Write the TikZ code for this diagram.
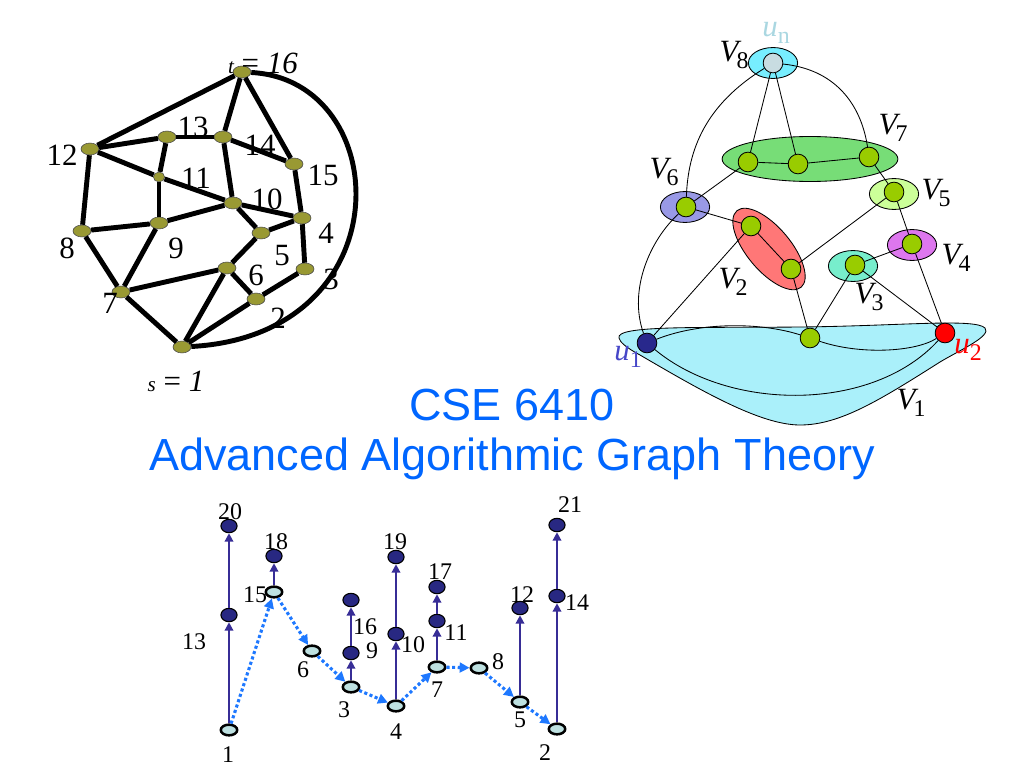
\documentclass[tikz,border=0pt]{standalone}
\usepackage{fontspec}
\setmainfont{Liberation Serif}
\setsansfont{Liberation Sans}
\usepackage{tikz}
\usetikzlibrary{positioning,shapes.geometric,arrows.meta}
\definecolor{olivenode}{RGB}{153,153,51}
\definecolor{limenode}{RGB}{153,204,0}
\definecolor{titleblue}{RGB}{0,102,255}
\definecolor{pathblue}{RGB}{30,120,255}
\definecolor{treeblue}{RGB}{55,45,150}
\definecolor{darknode}{RGB}{40,40,130}
\definecolor{palenode}{RGB}{190,225,225}
\definecolor{uone}{RGB}{40,40,140}
\definecolor{uonetext}{RGB}{70,70,200}
\definecolor{unlabel}{RGB}{170,215,225}
\definecolor{unfill}{RGB}{200,220,225}
\definecolor{setone}{RGB}{170,240,250}
\definecolor{settwo}{RGB}{255,119,119}
\definecolor{setthree}{RGB}{119,238,204}
\definecolor{setfour}{RGB}{221,119,238}
\definecolor{setfive}{RGB}{204,255,153}
\definecolor{setsix}{RGB}{153,153,230}
\definecolor{setseven}{RGB}{119,221,119}
\definecolor{seteight}{RGB}{119,238,255}
\def\px{0.025cm}
\newcommand{\vsub}[2]{\textit{#1}\raisebox{-.45ex}{\fontsize{17}{17}\selectfont #2}}

\begin{document}
\begin{tikzpicture}[x=\px, y=-\px, line join=round]
        \tikzstyle{dot}=[ellipse,draw=black!70,fill=olivenode,minimum width=12.8pt,minimum height=8.5pt,inner sep=0pt];
        \tikzstyle{road}=[line width=3.5pt,black];
        \tikzstyle{num}=[font=\fontsize{22}{24}\selectfont,inner sep=0pt];
        \tikzstyle{vertex}=[circle,draw=black,fill=limenode,minimum size=14pt,inner sep=0pt,line width=0.6pt];
        \tikzstyle{blob}=[ellipse,draw=black,line width=0.6pt,minimum width=35pt,minimum height=22pt,inner sep=0pt];
        \tikzstyle{link}=[line width=0.6pt,black];
        \tikzstyle{setname}=[font=\fontsize{22}{24}\selectfont,inner sep=0pt];
        \tikzstyle{title}=[font=\sffamily\fontsize{32}{35}\selectfont,text=titleblue,inner sep=0pt];
        \tikzstyle{pale}=[ellipse,draw=black,fill=palenode,line width=1.8pt,minimum width=11.7pt,minimum height=7.6pt,inner sep=0pt];
        \tikzstyle{dark}=[ellipse,draw=black,fill=darknode,line width=0.8pt,minimum width=11.5pt,minimum height=9.5pt,inner sep=0pt];
        \tikzstyle{tree}=[treeblue,line width=2pt,-{Triangle[length=6pt,width=6pt]}];
        \tikzstyle{walk}=[pathblue,line width=2.2pt,dash pattern=on 2.2pt off 1.8pt,-{Triangle[length=7pt,width=7pt]}];
        \tikzstyle{tag}=[font=\fontsize{17}{18}\selectfont,inner sep=0pt];

        \useasboundingbox (0,0) rectangle (1024,768);

        % planar graph, s = 1 and t = 16
        \foreach \name / \x / \y in {1/182/347,2/256/299,3/305/269,4/302/218,5/261/233,6/227/268,7/121/292,8/82/231,
                9/159/223,10/233/203,12/90/149,13/167/137,14/223/137,15/294/164,16/242/72}
            \node[dot] (G-\name) at (\x,\y) {};
        \node[dot,minimum width=8pt,minimum height=7pt] (G-11) at (159,177) {};
        \foreach \a / \b in {16/12,16/14,16/15,12/13,13/14,14/15,14/10,12/11,11/10,13/11,11/9,12/8,8/9,9/10,10/4,15/4,
                10/5,5/4,4/3,8/7,9/7,7/6,5/6,6/2,6/1,3/2,2/1,7/1}
            \draw[road] (G-\a) -- (G-\b);
        \draw[road] (G-16) .. controls (395,80) and (405,335) .. (G-1);
        \foreach \name / \x / \y in {13/193/127,14/260/145,12/62/155,15/323/175,11/196/178,10/267/199,4/326/233,9/176/248,
                8/67/248,5/282/256,6/256/275,3/331/279,7/110/303,2/278/318}
            \node[num] (GL-\name) at (\x,\y) {\name};
        \node[num] (GL-t) at (263,63) {{\fontsize{15}{15}\selectfont\itshape t} = \textit{16}};
        \node[num] (GL-s) at (176,381) {{\fontsize{15}{15}\selectfont\itshape s} = \textit{1}};

        % vertex sets V1..V8
        \draw[fill=setone,line width=0.6pt] (619,338) .. controls (615,325) and (700,328) .. (800,327)
            .. controls (900,326) and (975,318) .. (985,328) .. controls (992,336) and (960,350) .. (940,362)
            .. controls (880,400) and (840,425) .. (800,425) .. controls (760,425) and (700,390) .. (640,355)
            .. controls (625,347) and (620,342) .. (619,338) -- cycle;
        \node[blob,fill=seteight] (E-8) at (773,63) {};
        \node[blob,fill=setseven,minimum width=125pt,minimum height=32pt] (E-7) at (810,159) {};
        \node[blob,fill=setsix] (E-6) at (685,207) {};
        \node[blob,fill=setfive] (E-5) at (894,194) {};
        \node[blob,fill=setfour] (E-4) at (912,245) {};
        \node[blob,fill=setthree] (E-3) at (853,266) {};
        \node[blob,fill=settwo,minimum width=71pt,minimum height=31pt,rotate=-50] (E-2) at (769,249) {};

        \node[vertex,fill=unfill] (n8) at (773,63) {};
        \node[vertex] (n7a) at (748,162) {};
        \node[vertex] (n7b) at (798,164) {};
        \node[vertex] (n7c) at (869,157) {};
        \node[vertex] (n6) at (686,207) {};
        \node[vertex] (n5) at (894,192) {};
        \node[vertex] (n4) at (912,244) {};
        \node[vertex] (n3) at (855,265) {};
        \node[vertex] (n2a) at (751,226) {};
        \node[vertex] (n2b) at (791,269) {};
        \node[vertex,fill=uone] (u1) at (647,343) {};
        \node[vertex] (n1) at (810,338) {};
        \node[vertex,fill=red] (u2) at (945,333) {};

        \foreach \a / \b in {n8/n7a,n8/n7b,n7a/n7b,n7b/n7c,n7c/n5,n5/n4,n5/n2b,n4/u2,n4/n3,n3/u2,n3/n1,
                n2b/n1,n2a/n2b,n2a/u1,n6/n2a,n6/n7a}
            \draw[link] (\a) -- (\b);
        \draw[link] (n8) .. controls (705,105) and (688,150) .. (n6);
        \draw[link] (n8) .. controls (840,70) and (862,110) .. (n7c);
        \draw[link] (n6) .. controls (650,240) and (628,290) .. (u1);
        \draw[link] (u1) .. controls (700,322) and (760,322) .. (n1);
        \draw[link] (n1) .. controls (860,355) and (915,352) .. (u2);
        \draw[link] (u1) .. controls (730,412) and (873,412) .. (u2);

        \node[setname,text=unlabel] (lun) at (776,33) {\vsub{u}{n}};
        \foreach \name / \x / \y in {8/734/55,7/893/128,6/664/172,5/936/193,4/956/258,2/733/282,3/869/297,1/911/403}
            \node[setname] (LV-\name) at (\x,\y) {\vsub{V\kern-.06em}{\name}};
        \node[setname,text=uonetext] (lu1) at (628,357) {\vsub{u}{1}};
        \node[setname,text=red] (lu2) at (968,350) {\vsub{u}{2}};

        % title
        \node[title] (title1) at (512,405) {CSE 6410};
        \node[title,below of=title1,node distance=1.35cm] (title2) {Advanced Algorithmic Graph Theory};

        % path nodes and tree nodes
        \foreach \name / \x / \y in {1/229/730,15/274/592,6/312/651,3/351/687,4/396/706,7/437/667,8/479/668,5/520/702,2/557/729}
            \node[pale] (P-\name) at (\x,\y) {};
        \foreach \name / \x / \y in {13/229/615,20/229/526,18/274/556,16/351/600,9/351/653,19/396/557,10/396/634,
                17/437/587,11/437/621,12/520/608,14/557/596,21/557/525}
            \node[dark] (D-\name) at (\x,\y) {};
        \foreach \a / \b in {P-1/D-13,D-13/D-20,P-15/D-18,P-3/D-9,D-9/D-16,P-4/D-10,D-10/D-19,P-7/D-11,D-11/D-17,
                P-5/D-12,P-2/D-14,D-14/D-21}
            \draw[tree] (\a) -- (\b);
        \foreach \a / \b in {1/15,15/6,6/3,3/4,4/7,7/8,8/5,5/2}
            \draw[walk] (P-\a) -- (P-\b);
        \foreach \name / \x / \y in {20/230/512,18/276/542,13/194/642,15/255/595,16/365/627,9/372/651,19/395/542,
                10/413/645,17/440/572,11/456/633,12/522/595,14/577/603,21/570/505,6/303/670,3/344/710,4/396/732,
                7/437/690,8/498/662,5/520/720,2/545/753,1/228/755}
            \node[tag] (L-\name) at (\x,\y) {\name};
    \end{tikzpicture}
\end{document}
